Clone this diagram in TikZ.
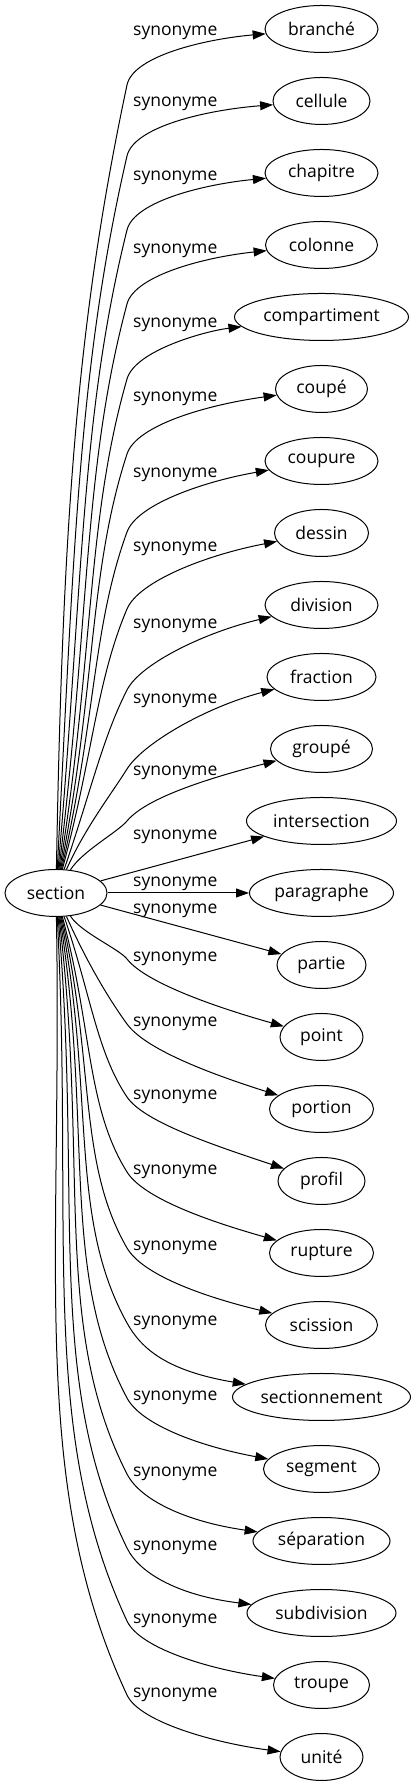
\documentclass[tikz,border=0pt]{standalone}
\usepackage{fontspec}
\setmainfont{Open Sans}
\usetikzlibrary{arrows.meta,calc,shapes.geometric}
\begin{document}
\begin{tikzpicture}[x=1pt,y=1pt,
  tgt/.style={draw, ellipse, line width=1pt, minimum height=47pt, inner sep=0pt, font=\fontsize{17.5}{20}\selectfont},
  lbl/.style={inner sep=0pt, anchor=west, font=\fontsize{17.5}{20}\selectfont},
  edge/.style={draw, line width=1pt, -{Triangle[length=13pt,width=9pt]}},
]
\useasboundingbox (0,0) rectangle (416,1787);
\node[tgt, minimum width=102pt] (sec) at (56,894) {section};
\foreach \i/\txt/\w/\yl in {
0/branché/113/31, 1/cellule/97/102, 2/chapitre/113/176, 3/colonne/112/249,
4/compartiment/174/323, 5/coupé/92/397, 6/coupure/113/473, 7/dessin/94/547,
8/division/113/624, 9/fraction/109/699, 10/groupé/102/771, 11/intersection/150/835,
12/paragraphe/144/882, 13/partie/89/909, 14/point/83/957, 15/portion/104/1022,
16/profil/87/1095, 17/rupture/104/1170, 18/scission/112/1246, 19/sectionnement/178/1321,
20/segment/116/1396, 21/séparation/137/1472, 22/subdivision/149/1546, 23/troupe/96/1619,
24/unité/83/1693}{
  \pgfmathsetmacro\Yn{1758-72*\i}
  \pgfmathsetmacro\Yl{1787-\yl}
  \node[tgt, minimum width=\w pt] (n\i) at (321.5,\Yn) {\txt};
  \node[lbl] (l\i) at (133,\Yl-2) {synonyme};
  \ifnum\i<11
    \pgfmathtruncatemacro\a{{89,87,85,83,81,79,77,75,71,66,58}[\i]}
    \pgfmathtruncatemacro\k{{54,54,54,55,56,57,59,62,66,70,50}[\i]}
    \pgfmathtruncatemacro\t{{78,77,76,75,74,72,70,67,63,58,50}[\i]}
    \pgfmathsetmacro\Qy{\Yl-\k}
    \pgfmathsetmacro\L{0.45*(\Qy-917)}
    \pgfmathsetmacro\M{0.3*(\Qy-917)}
    \coordinate (q\i) at (127,\Qy);
    \coordinate (c\i) at (206,\Yl-8);
    \draw[edge] (sec.\a) .. controls +(\a:\L) and +(\t-180:\M) .. (q\i)
      .. controls +(\t:30) and (c\i) .. (n\i);
  \else\ifnum\i>13
    \pgfmathtruncatemacro\j{24-\i}
    \pgfmathtruncatemacro\a{{89,87,85,83,81,79,77,75,71,66,58}[\j]}
    \pgfmathtruncatemacro\t{{65,65,64,63,62,61,60,58,56,54,52}[\j]}
    \pgfmathsetmacro\Qy{\Yl-2}
    \pgfmathsetmacro\L{0.45*(870.5-\Qy)}
    \pgfmathsetmacro\M{0.3*(870.5-\Qy)}
    \pgfmathsetmacro\cx{321.5-\w/2-65}
    \coordinate (q\i) at (127,\Qy);
    \coordinate (c\i) at (\cx,\Yl-50);
    \draw[edge] (sec.-\a) .. controls +(-\a:\L) and +(180-\t:\M) .. (q\i)
      .. controls +(-\t:30) and (c\i) .. (n\i);
  \else
    \draw[edge] (sec) -- (n\i);
  \fi\fi
}
\end{tikzpicture}
\end{document}
